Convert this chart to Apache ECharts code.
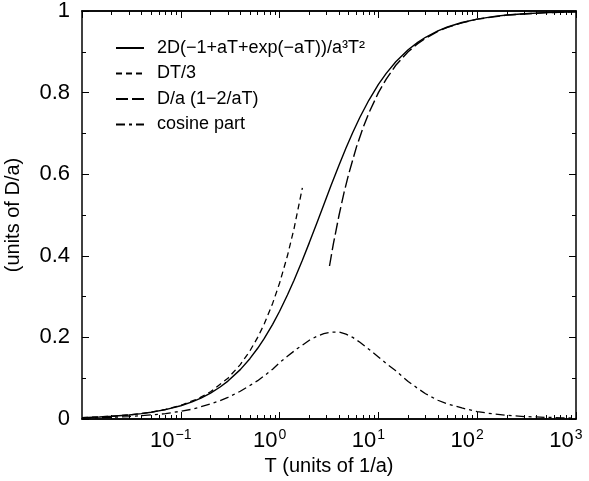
<!DOCTYPE html>
<html>
<head>
<meta charset="utf-8">
<script src="https://cdn.jsdelivr.net/npm/echarts@6/dist/echarts.min.js"></script>
<style>
html,body{margin:0;padding:0;background:#fff;}
#chart{width:589px;height:481px;}
</style>
</head>
<body>
<div id="chart"></div>
<script>
// ---- data ----
const seriesNames = ['2D(\u22121+aT+exp(\u2212aT))/a\u00b3T\u00b2', 'DT/3', 'D/a (1\u22122/aT)', 'cosine part'];

const solidT = [0.01,0.015,0.02,0.03,0.04,0.05,0.07,0.1,0.13,0.16,0.2,0.25,0.3,0.4,0.5,0.6,0.7,0.85,1,1.2,1.4,1.7,2,2.4,2.8,3.3,4,4.7,5.5,6.5,8,10,12,15,20,25,30,40,50,70,100,150,200,300,500,700,1000];
const solidV = [0.0033,0.0050,0.0066,0.0099,0.0132,0.0165,0.0229,0.0325,0.0420,0.0513,0.0634,0.0784,0.0929,0.1210,0.1478,0.1733,0.1976,0.2321,0.2642,0.3039,0.3402,0.3892,0.4323,0.4824,0.5253,0.5708,0.6227,0.6642,0.7022,0.7396,0.7812,0.8200,0.8472,0.8756,0.9050,0.9232,0.9356,0.9513,0.9608,0.9718,0.9802,0.9868,0.9901,0.9934,0.9960,0.9971,0.9980];

const shortT = [0.01,0.02,0.03,0.05,0.07,0.1,0.15,0.2,0.3,0.4,0.5,0.6,0.7,0.85,1,1.2,1.4,1.7];
const shortV = [0.0033,0.0067,0.0100,0.0167,0.0233,0.0333,0.0500,0.0667,0.1000,0.1333,0.1667,0.2000,0.2333,0.2833,0.3333,0.4000,0.4667,0.5667];

const longT = [3.2,3.5,4,4.5,5,6,7,8,10,12,15,20,25,30,40,50,70,100,200,500,1000];
const longV = [0.375,0.429,0.500,0.556,0.600,0.667,0.714,0.750,0.800,0.833,0.867,0.900,0.920,0.933,0.950,0.960,0.971,0.980,0.990,0.996,0.998];

const cosT = [0.01,0.02,0.03,0.05,0.07,0.1,0.13,0.16,0.2,0.25,0.3,0.4,0.5,0.6,0.7,0.85,1,1.2,1.5,1.7,2,2.4,2.8,3.3,4,4.7,5.5,6.5,8,10,12,15,20,25,30,40,50,70,100,150,200,300,500,700,1000];
const cosV = [0.002,0.004,0.006,0.010,0.013,0.019,0.024,0.030,0.037,0.045,0.053,0.068,0.082,0.094,0.106,0.122,0.138,0.154,0.172,0.181,0.193,0.203,0.209,0.213,0.213,0.208,0.200,0.188,0.171,0.152,0.136,0.118,0.092,0.075,0.062,0.046,0.037,0.027,0.018,0.012,0.009,0.006,0.004,0.003,0.002];

const xMin = 0.01, xMax = 1000;
const yTicks = [0, 0.2, 0.4, 0.6, 0.8, 1];
// ---------------------------------------------

const pairs = (xs, ys) => xs.map((x, i) => [x, ys[i]]);

// minor log ticks (2..9 in each decade)
const minorX = [];
for (let e = -2; e < 3; e++) {
  for (let m = 2; m <= 9; m++) minorX.push(+(m * Math.pow(10, e)).toPrecision(3));
}

const FONT = 'Liberation Sans, Arial, Helvetica, sans-serif';
const axisLineStyle = { color: '#000', width: 1.5 };

function logLabel(v) {
  const e = Math.round(Math.log10(v));
  return '{b|10}{s|' + (e < 0 ? '\u2212' + (-e) : e) + '}';
}

const baseX = {
  type: 'log', logBase: 10, min: xMin, max: xMax,
  splitLine: { show: false },
  axisLine: { show: true, lineStyle: axisLineStyle, onZero: false }
};

const chart = echarts.init(document.getElementById('chart'), null, { renderer: 'canvas' });

const option = {
  animation: false,
  backgroundColor: '#fff',
  textStyle: { fontFamily: FONT, color: '#000' },
  grid: { left: 82, right: 13, top: 11, bottom: 62, containLabel: false, outerBoundsMode: 'none' },
  legend: {
    orient: 'vertical',
    left: 110,
    top: 34,
    itemWidth: 28,
    itemHeight: 14,
    itemGap: 7.5,
    itemStyle: { opacity: 0 },
    textStyle: { fontFamily: FONT, fontSize: 18, color: '#000', padding: [0, 0, 0, 8], lineHeight: 18 },
    data: seriesNames
  },
  xAxis: [
    Object.assign({}, baseX, {
      position: 'bottom',
      name: 'T (units of 1/a)',
      nameLocation: 'middle',
      nameGap: 31,
      nameTextStyle: { fontFamily: FONT, fontSize: 20, color: '#000' },
      axisTick: { show: true, inside: true, length: 7, lineStyle: { color: '#000', width: 1 } },
      axisLabel: {
        show: true, margin: 9, showMinLabel: false, formatter: logLabel,
        rich: {
          b: { fontFamily: FONT, fontSize: 22, color: '#000', lineHeight: 24, verticalAlign: 'bottom' },
          s: { fontFamily: FONT, fontSize: 14, color: '#000', lineHeight: 24, verticalAlign: 'top', padding: [0, 20, 9, 1] }
        }
      }
    }),
    Object.assign({}, baseX, {
      position: 'bottom',
      axisTick: { show: true, inside: true, length: 4, customValues: minorX, lineStyle: { color: '#000', width: 1 } },
      axisLabel: { show: false }
    }),
    Object.assign({}, baseX, {
      position: 'top',
      axisTick: { show: true, inside: true, length: 7, lineStyle: { color: '#000', width: 1 } },
      axisLabel: { show: false }
    }),
    Object.assign({}, baseX, {
      position: 'top',
      axisTick: { show: true, inside: true, length: 4, customValues: minorX, lineStyle: { color: '#000', width: 1 } },
      axisLabel: { show: false }
    })
  ],
  yAxis: [
    {
      type: 'value', min: 0, max: 1, interval: 0.2, position: 'left',
      name: '(units of D/a)',
      nameLocation: 'middle',
      nameGap: 59,
      nameRotate: 90,
      nameTextStyle: { fontFamily: FONT, fontSize: 20, color: '#000' },
      splitLine: { show: false },
      axisLine: { show: true, lineStyle: axisLineStyle, onZero: false },
      axisTick: { show: true, inside: true, length: 7, lineStyle: { color: '#000', width: 1 } },
      minorTick: { show: true, splitNumber: 2, length: 4, lineStyle: { color: '#000', width: 1 } },
      axisLabel: { show: true, margin: 12, fontFamily: FONT, fontSize: 22, color: '#000',
        customValues: yTicks }
    },
    {
      type: 'value', min: 0, max: 1, interval: 0.2, position: 'right',
      splitLine: { show: false },
      axisLine: { show: true, lineStyle: axisLineStyle, onZero: false },
      axisTick: { show: true, inside: true, length: 7, lineStyle: { color: '#000', width: 1 } },
      minorTick: { show: true, splitNumber: 2, length: 4, lineStyle: { color: '#000', width: 1 } },
      axisLabel: { show: false }
    }
  ],
  series: [
    {
      name: seriesNames[0], type: 'line', xAxisIndex: 0, yAxisIndex: 0,
      data: pairs(solidT, solidV), showSymbol: false, symbol: 'none', smooth: false,
      lineStyle: { color: '#000', width: 1.4, type: 'solid' },
      itemStyle: { color: '#000' }
    },
    {
      name: seriesNames[1], type: 'line', xAxisIndex: 0, yAxisIndex: 0,
      data: pairs(shortT, shortV), showSymbol: false, symbol: 'none', smooth: false,
      lineStyle: { color: '#000', width: 1.3, type: [6, 4] },
      itemStyle: { color: '#000' }
    },
    {
      name: seriesNames[2], type: 'line', xAxisIndex: 0, yAxisIndex: 0,
      data: pairs(longT, longV), showSymbol: false, symbol: 'none', smooth: false,
      lineStyle: { color: '#000', width: 1.4, type: [12, 4] },
      itemStyle: { color: '#000' }
    },
    {
      name: seriesNames[3], type: 'line', xAxisIndex: 0, yAxisIndex: 0,
      data: pairs(cosT, cosV), showSymbol: false, symbol: 'none', smooth: false,
      lineStyle: { color: '#000', width: 1.3, type: [9, 4, 3, 4] },
      itemStyle: { color: '#000' }
    }
  ]
};

chart.setOption(option);
</script>
</body>
</html>
